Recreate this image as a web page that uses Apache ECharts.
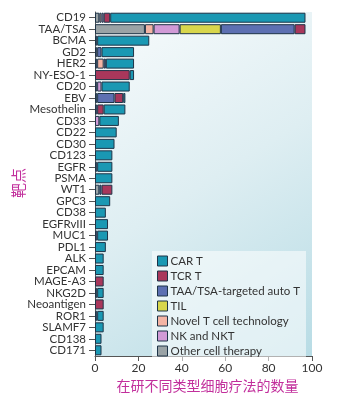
<!DOCTYPE html>
<html>
<head>
<meta charset="utf-8">
<script src="https://cdn.jsdelivr.net/npm/echarts@6/dist/echarts.min.js"></script>
<style>
  html, body { margin: 0; padding: 0; background: #fff; }
  #main { width: 351px; height: 403px; }
</style>
</head>
<body>
<div id="main"></div>
<script>
// targets, top to bottom
var targets = ['CD19', 'TAA/TSA', 'BCMA', 'GD2', 'HER2', 'NY-ESO-1', 'CD20', 'EBV', 'Mesothelin', 'CD33',
  'CD22', 'CD30', 'CD123', 'EGFR', 'PSMA', 'WT1', 'GPC3', 'CD38', 'EGFRvIII', 'MUC1',
  'PDL1', 'ALK', 'EPCAM', 'MAGE-A3', 'NKG2D', 'Neoantigen', 'ROR1', 'SLAMF7', 'CD138', 'CD171'];

// counts per therapy type, same order as targets
var otherCell = [2, 23, 1, 0, 1, 0, 0, 1, 0, 0, 0, 0, 0, 1, 0, 2, 0, 0, 0, 0, 0, 0, 0, 0, 1, 0, 1, 0, 0, 0];
var novelT    = [1, 4, 0, 1, 3, 0, 1, 0, 0, 0, 0, 0, 0, 0, 0, 0, 0, 0, 0, 0, 0, 0, 0, 0, 0, 0, 0, 0, 0, 0];
var nkNkt     = [1, 12, 0, 0, 0, 0, 2, 0, 1, 2, 0, 0, 0, 0, 0, 0, 0, 0, 0, 1, 0, 0, 0, 0, 0, 0, 0, 0, 0, 0];
var til       = [0, 19, 0, 0, 0, 0, 0, 0, 0, 0, 0, 0, 0, 0, 0, 0, 0, 0, 0, 0, 0, 0, 0, 0, 0, 0, 0, 0, 0, 0];
var autoT     = [0, 34, 0, 2, 1, 0, 0, 8, 0, 0, 0, 0, 0, 0, 0, 1, 0, 0, 0, 0, 0, 0, 0, 0, 0, 0, 0, 0, 0, 0];
var tcrT      = [3, 5, 0, 0, 0, 16, 0, 4, 3, 0, 0, 0, 0, 0, 0, 5, 0, 0, 0, 0, 0, 0, 0, 4, 0, 4, 0, 0, 0, 0];
var carT      = [90, 0, 24, 15, 13, 2, 13, 1, 10, 9, 10, 9, 8, 7, 8, 0, 7, 5, 6, 5, 5, 4, 4, 0, 3, 0, 3, 4, 3, 3];

var xTicks = [0, 20, 40, 60, 80, 100];

var types = [
  { name: 'Other cell therapy', data: otherCell, color: '#9aa3a6' },
  { name: 'Novel T cell technology', data: novelT, color: '#f4b4a4' },
  { name: 'NK and NKT', data: nkNkt, color: '#d19ad6' },
  { name: 'TIL', data: til, color: '#d8d64c' },
  { name: 'TAA/TSA-targeted auto T', data: autoT, color: '#5d70b2' },
  { name: 'TCR T', data: tcrT, color: '#a9375b' },
  { name: 'CAR T', data: carT, color: '#1a98b3' }
];
var legendOrder = ['CAR T', 'TCR T', 'TAA/TSA-targeted auto T', 'TIL', 'Novel T cell technology', 'NK and NKT', 'Other cell therapy'];

var magenta = '#c22f9c';
var font = 'Lato';

var myChart = echarts.init(document.getElementById('main'));
myChart.setOption({
  animation: false,
  textStyle: { fontFamily: font },
  grid: {
    left: 95, right: 39, top: 12, bottom: 47,
    show: true,
    borderWidth: 0,
    backgroundColor: new echarts.graphic.LinearGradient(0, 0, 1, 1, [
      { offset: 0, color: '#f8fbfc' },
      { offset: 0.5, color: '#deeef2' },
      { offset: 1, color: '#b8dce5' }
    ])
  },
  // y axis title, drawn as a rotated text so it sits where the original has it
  graphic: [{
    type: 'text',
    x: 18,
    y: 183,
    rotation: Math.PI / 2,
    style: {
      text: '靶点',
      fill: magenta,
      font: '15px "Noto Sans CJK SC"',
      align: 'center',
      verticalAlign: 'middle'
    }
  }],
  legend: {
    data: legendOrder,
    orient: 'vertical',
    left: 152,
    top: 251,
    icon: 'rect',
    itemWidth: 10,
    itemHeight: 10,
    itemGap: 3,
    padding: [4, 6, 5, 5],
    backgroundColor: 'rgba(255,255,255,0.55)',
    textStyle: { fontSize: 11.5, color: '#333', fontFamily: font, padding: [0, 0, 0, -2] },
    itemStyle: { borderColor: '#1e3448', borderWidth: 1 }
  },
  xAxis: {
    type: 'value',
    min: xTicks[0],
    max: xTicks[xTicks.length - 1],
    interval: 20,
    name: '在研不同类型细胞疗法的数量',
    nameLocation: 'middle',
    nameGap: 23,
    nameTextStyle: { color: magenta, fontSize: 14, fontFamily: 'Noto Sans CJK SC', padding: [0, 0, 0, 8] },
    axisLine: { show: true, lineStyle: { color: '#555', width: 1 } },
    axisTick: { show: true, length: 5, lineStyle: { color: '#555' } },
    axisLabel: { color: '#333', fontSize: 12, margin: 6 },
    splitLine: { show: false }
  },
  yAxis: {
    type: 'category',
    data: targets,
    inverse: true,
    axisLine: { show: true, lineStyle: { color: '#555', width: 1 } },
    axisTick: { show: true, length: 6, interval: 0, alignWithLabel: true, lineStyle: { color: '#555' } },
    axisLabel: { color: '#333', fontSize: 11.5, margin: 9, interval: 0 }
  },
  series: types.map(function (t) {
    return {
      name: t.name,
      type: 'bar',
      stack: 'all',
      barWidth: 10,
      data: t.data.map(function (v) { return v === 0 ? '-' : v; }),
      itemStyle: { color: t.color, borderColor: '#1e3448', borderWidth: 1 }
    };
  })
});
</script>
</body>
</html>
